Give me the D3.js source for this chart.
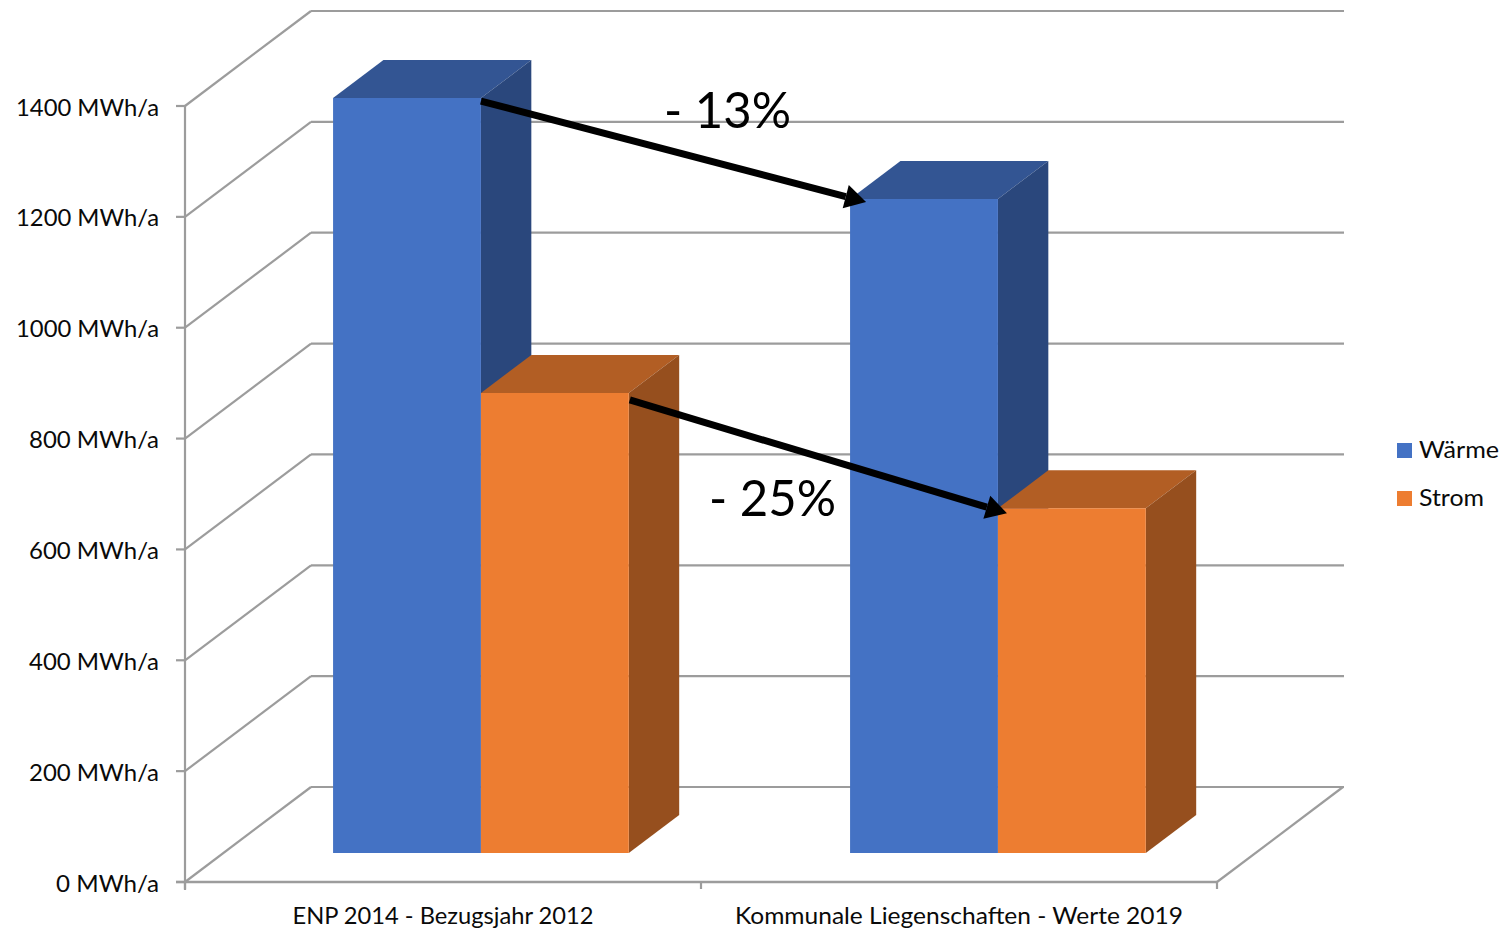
<!DOCTYPE html>
<html><head><meta charset="utf-8">
<script src="https://cdnjs.cloudflare.com/ajax/libs/d3/7.8.5/d3.min.js"></script>
<style>html,body{margin:0;padding:0;background:#fff;overflow:hidden}svg{display:block}text{font-family:Lato,"Open Sans",sans-serif;fill:#0a0a0a}</style>
</head><body><svg id="c" width="1503" height="928"></svg>
<script>
const categories = ["ENP 2014 - Bezugsjahr 2012", "Kommunale Liegenschaften - Werte 2019"];
const seriesNames = ["Wärme", "Strom"];
const waerme = [1362, 1180];
const strom = [830, 622];
const yTicks = [0, 200, 400, 600, 800, 1000, 1200, 1400];
const changeLabels = ["- 13%", "- 25%"];

const svg = d3.select("#c");
const y = d3.scaleLinear().domain([0, 1400]).range([882, 106]);
const x0 = d3.scaleBand().domain(categories).range([184, 1218]).paddingInner(0.428).paddingOuter(0.214);
const x1 = d3.scaleBand().domain(seriesNames).range([0, x0.bandwidth()]);
const depth = {dx: 126, dy: -95};
const barFront = 0.305, barBack = 0.705;
const pal = {
  "Wärme": {front: "#4472C4", top: "#335593", side: "#2A477C"},
  "Strom": {front: "#ED7D31", top: "#B25E24", side: "#964F1E"}
};
const grid = "#9C9C9C";
const line = (a, b, c, d, w = 2.2) => svg.append("line").attr("x1", a).attr("y1", b).attr("x2", c).attr("y2", d)
  .attr("stroke", grid).attr("stroke-width", w);

// walls, floor
yTicks.forEach(t => {
  const py = y(t);
  line(185 + depth.dx, py + depth.dy, 1344, py + depth.dy);
  line(185, py, 185 + depth.dx, py + depth.dy);
  line(176, py, 185, py);
  svg.append("text").attr("x", 159).attr("y", py + 9.5).attr("text-anchor", "end")
    .attr("font-size", 24).attr("textLength", t >= 1000 ? 143 : t > 0 ? 130 : 103).attr("lengthAdjust", "spacingAndGlyphs")
    .text(t + " MWh/a");
});
line(185, y(1400) - 1, 185, 890);
line(176, 882, 1217, 882, 2.6);
line(1217, 882, 1217 + depth.dx, 882 + depth.dy);
[185, 701, 1217].forEach(px => line(px, 882, px, 889));

// bars
const poly = (pts, fill) => svg.append("polygon").attr("points", pts.map(p => p.join(",")).join(" ")).attr("fill", fill);
const corners = {};
categories.forEach((cat, i) => {
  [waerme, strom].forEach((vals, s) => {
    const name = seriesNames[s], c = pal[name];
    const w = x1.bandwidth();
    const off = f => [depth.dx * f, depth.dy * f];
    const [ax, ay] = off(barFront), [bx, by] = off(barBack);
    const yT = y(vals[i]), y0 = y(0);
    const L = x0(cat) + x1(name), R = L + w;
    poly([[L + ax, yT + ay], [L + bx, yT + by], [R + bx, yT + by], [R + ax, yT + ay]], c.top);
    poly([[R + ax, yT + ay], [R + bx, yT + by], [R + bx, y0 + by], [R + ax, y0 + ay]], c.side);
    poly([[L + ax, yT + ay], [R + ax, yT + ay], [R + ax, y0 + ay], [L + ax, y0 + ay]], c.front);
    corners[s + "_" + i] = {l: L + ax, r: R + ax, t: yT + ay};
  });
});

// category labels
categories.forEach((cat, i) => {
  svg.append("text").attr("x", i === 0 ? 443 : 959).attr("y", 924).attr("text-anchor", "middle")
    .attr("font-size", 24).attr("textLength", i === 0 ? 301 : 448).attr("lengthAdjust", "spacingAndGlyphs").text(cat);
});

// legend
seriesNames.forEach((n, i) => {
  const ly = 443 + i * 48;
  svg.append("rect").attr("x", 1397).attr("y", ly).attr("width", 15).attr("height", 15).attr("fill", pal[n].front);
  svg.append("text").attr("x", 1419).attr("y", ly + 15).attr("font-size", 24)
    .attr("textLength", i === 0 ? 80 : 65).attr("lengthAdjust", "spacingAndGlyphs").text(n);
});

// arrows
function arrow(x1a, y1a, x2a, y2a) {
  const a = Math.atan2(y2a - y1a, x2a - x1a), h = 21, hw = 12;
  const bx = x2a - h * Math.cos(a), by = y2a - h * Math.sin(a);
  svg.append("line").attr("x1", x1a).attr("y1", y1a).attr("x2", bx).attr("y2", by).attr("stroke", "#000").attr("stroke-width", 7);
  const nx = -Math.sin(a) * hw, ny = Math.cos(a) * hw;
  poly([[x2a, y2a], [bx + nx, by + ny], [bx - nx, by - ny]], "#000");
}
const a = corners["0_0"], b = corners["0_1"], c = corners["1_0"], d = corners["1_1"];
arrow(a.r, a.t + 3, b.l + 16, b.t + 3);
arrow(c.r + 1, c.t + 7, d.l + 9, d.t + 5);

// percent labels
[[664, 128, 127], [709, 516, 127]].forEach((p, i) => {
  svg.append("text").attr("x", p[0]).attr("y", p[1]).attr("font-size", 51).style("fill", "#000")
    .attr("textLength", p[2]).attr("lengthAdjust", "spacingAndGlyphs").text(changeLabels[i]);
});
</script></body></html>
